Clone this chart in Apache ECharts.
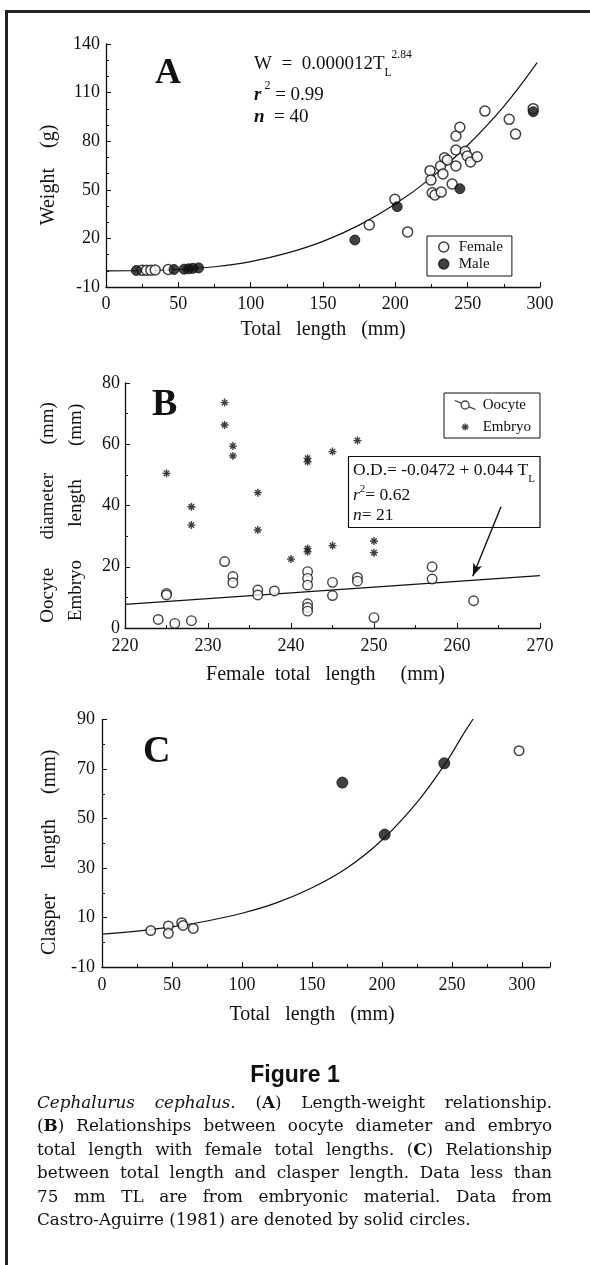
<!DOCTYPE html>
<html>
<head>
<meta charset="utf-8">
<script src="https://cdn.jsdelivr.net/npm/echarts@6/dist/echarts.min.js"></script>
<style>
  html, body { margin: 0; padding: 0; background: #fff; }
  #chart { position: absolute; left: 0; top: 0; width: 590px; height: 1265px; }
  #fig { position: absolute; left: 0; width: 590px; top: 1061px; text-align: center;
         font-family: "Liberation Sans", Arial, sans-serif; font-weight: bold; font-size: 23px; color: #111; }
  #cap { position: absolute; left: 37px; top: 1091px; width: 515px;
         font-family: "DejaVu Serif", serif; font-size: 16.8px; line-height: 23.4px; color: #111; }
  #cap .j { text-align: justify; text-align-last: justify; }
  #cap .l { text-align: left; }
</style>
</head>
<body>
<div id="chart"></div>
<div id="fig">Figure 1</div>
<div id="cap">
  <div class="j"><i>Cephalurus cephalus</i>. (<b>A</b>) Length-weight relationship.</div>
  <div class="j">(<b>B</b>) Relationships between oocyte diameter and embryo</div>
  <div class="j">total length with female total lengths. (<b>C</b>) Relationship</div>
  <div class="j">between total length and clasper length. Data less than</div>
  <div class="j">75 mm TL are from embryonic material. Data from</div>
  <div class="l">Castro-Aguirre (1981) are denoted by solid circles.</div>
</div>
<script>
// ---------- Panel A: length-weight ----------
const femaleTL = [25, 28, 31, 34, 43, 182, 199.7, 208.5, 224, 224.6, 225.5, 227.4, 231.7, 231.3, 232.9, 234, 235.9, 239.3, 241.9, 241.9, 241.9, 244.6, 248.3, 249.7, 252, 256.6, 261.9, 278.7, 283.1, 295.3];
const femaleW  = [0.3, 0.4, 0.4, 0.5, 0.8, 28.3, 44.1, 24, 61.8, 56, 48.2, 46.8, 48.6, 64.7, 59.8, 69.8, 68.4, 53.6, 64.7, 74.6, 83.2, 88.6, 73.8, 70.9, 67.2, 70.4, 98.6, 93.5, 84.4, 100.1];
const maleTL = [21, 47, 54, 57, 60, 64, 172, 201.3, 244.6, 295.3];
const maleW  = [0.2, 0.8, 1.0, 1.2, 1.5, 1.8, 19, 39.6, 50.7, 98.2];
const curveATL = [0, 25, 50, 75, 100, 125, 150, 175, 200, 225, 250, 275, 298];
const curveAW  = [0, 0.1, 0.8, 2.5, 5.7, 10.9, 18.2, 28.2, 41.2, 57.5, 77.5, 101.5, 128.5];
const ticksAX = [0, 50, 100, 150, 200, 250, 300];
const ticksAY = [-10, 20, 50, 80, 110, 140];

// ---------- Panel B: oocyte / embryo ----------
const embryoTL  = [225, 228, 228, 232, 232, 233, 233, 236, 236, 240, 242, 242, 242, 242, 245, 245, 248, 250, 250];
const embryoLen = [50.5, 39.6, 33.6, 73.6, 66.3, 59.4, 56.2, 44.2, 32, 22.5, 55.4, 54.3, 26, 24.9, 57.6, 26.9, 61.2, 28.4, 24.6];
const oocyteTL = [224, 225, 225, 226, 228, 232, 233, 233, 236, 236, 238, 242, 242, 242, 242, 242, 242, 245, 245, 248, 248, 250, 257, 257, 262];
const oocyteD  = [2.8, 11.3, 10.8, 1.5, 2.4, 21.7, 16.8, 14.8, 12.4, 10.8, 12.1, 18.4, 16.2, 14.0, 7.9, 6.7, 5.5, 14.9, 10.6, 16.5, 15.3, 3.4, 20.0, 16.0, 8.9];
const fitBTL = [220, 270];
const fitBOD = [7.7, 17.1];
const arrowFrom = [265.3, 39.6];
const arrowTo   = [261.9, 16.9];

// ---------- Panel C: clasper length ----------
const cOpenTL = [34.8, 47.4, 47.4, 56.9, 57.9, 65.2, 297.9];
const cOpenCL = [4.7, 6.6, 3.6, 7.9, 6.8, 5.6, 77.4];
const cFilledTL = [171.7, 201.9, 244.5];
const cFilledCL = [64.5, 43.5, 72.3];
const curveCTL = [0, 25, 50, 75, 100, 125, 150, 175, 200, 225, 245, 258, 266];
const curveCCL = [3.3, 4.5, 6.2, 8.6, 11.7, 16.0, 22, 30, 41.3, 56.5, 72, 84, 91];

const zip = (a, b) => a.map((v, i) => [v, b[i]]);
const F = '"Liberation Serif", "Times New Roman", serif';
const BLACK = '#111';

const asterisk = 'path://M5,0L5,10M0,5L10,5M1.6,1.6L8.4,8.4M8.4,1.6L1.6,8.4';
const asteriskLegend = 'path://M0,0M25,12M12.5,2.5L12.5,9.5M9,6L16,6M10,3.5L15,8.5M15,3.5L10,8.5';
const oocyteLegend = 'path://M0,0M25,12M2,1.5L8.6,4.2M16.4,7.8L23,10.5M16.5,6A4,4,0,1,1,8.5,6A4,4,0,1,1,16.5,6Z';

function axisBase(extra) {
  return Object.assign({
    type: 'value',
    axisLine: { show: true, onZero: false, lineStyle: { color: BLACK, width: 1.3 } },
    axisTick: { show: true, inside: true, length: 5, lineStyle: { color: BLACK, width: 1 } },
    minorTick: { show: true, splitNumber: 2, length: 3, lineStyle: { color: BLACK, width: 1 } },
    splitLine: { show: false },
    minorSplitLine: { show: false },
    axisLabel: { color: BLACK, fontFamily: F, fontSize: 18 },
    nameLocation: 'middle',
    nameTextStyle: { color: BLACK, fontFamily: F, fontSize: 20 }
  }, extra);
}

const labelFromList = (list) => (v) => (list.indexOf(v) >= 0 ? String(v) : '');

const option = {
  animation: false,
  backgroundColor: '#fff',
  grid: [
    { left: 106, top: 44, width: 434, height: 243 },
    { left: 125, top: 383, width: 415, height: 245 },
    { left: 102, top: 719.5, width: 448, height: 247.5 }
  ],
  xAxis: [
    axisBase({ gridIndex: 0, min: 0, max: 300, interval: 50,
      axisLabel: { color: BLACK, fontFamily: F, fontSize: 18, margin: 8, formatter: labelFromList(ticksAX) },
      name: 'Total   length   (mm)', nameGap: 33 }),
    axisBase({ gridIndex: 1, min: 220, max: 270, interval: 10,
      axisLabel: { color: BLACK, fontFamily: F, fontSize: 18, margin: 9 },
      name: 'Female  total   length     (mm)', nameGap: 37,
      nameTextStyle: { color: BLACK, fontFamily: F, fontSize: 20, padding: [0, 14, 0, 0] } }),
    axisBase({ gridIndex: 2, min: 0, max: 320, interval: 50,
      axisLabel: { color: BLACK, fontFamily: F, fontSize: 18, margin: 9, formatter: (v) => (v > 300 ? '' : String(v)) },
      name: 'Total   length   (mm)', nameGap: 38,
      nameTextStyle: { color: BLACK, fontFamily: F, fontSize: 20, padding: [0, 28, 0, 0] } })
  ],
  yAxis: [
    axisBase({ gridIndex: 0, min: -10, max: 140, interval: 30,
      minorTick: { show: true, splitNumber: 3, length: 3, lineStyle: { color: BLACK, width: 1 } },
      axisLabel: { color: BLACK, fontFamily: F, fontSize: 18, margin: 6, formatter: labelFromList(ticksAY) },
      name: 'Weight    (g)', nameGap: 47,
      nameTextStyle: { color: BLACK, fontFamily: F, fontSize: 20, padding: [0, 19, 0, 0] } }),
    axisBase({ gridIndex: 1, min: 0, max: 80, interval: 20,
      axisLabel: { color: BLACK, fontFamily: F, fontSize: 18, margin: 5 },
      name: 'Oocyte      diameter      (mm)\nEmbryo       length       (mm)', nameGap: 35,
      nameTextStyle: { color: BLACK, fontFamily: F, fontSize: 19, lineHeight: 28, padding: [0, 14, 0, 0] } }),
    axisBase({ gridIndex: 2, min: -10, max: 90, interval: 20,
      axisLabel: { color: BLACK, fontFamily: F, fontSize: 18, margin: 7 },
      name: 'Clasper     length     (mm)', nameGap: 42,
      nameTextStyle: { color: BLACK, fontFamily: F, fontSize: 20, padding: [0, 18, 0, 0] } })
  ],
  legend: [
    { left: 427, top: 236, orient: 'vertical', data: ['Female', 'Male'], selectedMode: false,
      itemWidth: 20, itemHeight: 10, itemGap: 1, padding: [3, 9, 4, 11],
      borderColor: BLACK, borderWidth: 1, backgroundColor: '#fff',
      itemStyle: { borderWidth: 1.5 },
      textStyle: { fontFamily: F, fontSize: 15, color: BLACK, lineHeight: 16 } },
    { left: 444, top: 393, orient: 'vertical', selectedMode: false,
      data: [{ name: 'Oocyte', icon: oocyteLegend }, { name: 'Embryo', icon: asteriskLegend }],
      itemWidth: 25, itemHeight: 12, itemGap: 6, padding: [4, 9, 3, 8],
      borderColor: BLACK, borderWidth: 1, backgroundColor: '#fff',
      itemStyle: { borderWidth: 1.3 },
      textStyle: { fontFamily: F, fontSize: 15, color: BLACK, lineHeight: 16 } }
  ],
  series: [
    { name: 'fitA', type: 'line', xAxisIndex: 0, yAxisIndex: 0, data: zip(curveATL, curveAW),
      smooth: 0.4, symbol: 'none', showSymbol: false, lineStyle: { color: BLACK, width: 1.2 }, z: 2 },
    { name: 'Female', type: 'scatter', xAxisIndex: 0, yAxisIndex: 0, data: zip(femaleTL, femaleW),
      symbol: 'circle', symbolSize: 10, itemStyle: { color: '#fff', borderColor: BLACK, borderWidth: 1.5 }, z: 3 },
    { name: 'Male', type: 'scatter', xAxisIndex: 0, yAxisIndex: 0, data: zip(maleTL, maleW),
      symbol: 'circle', symbolSize: 10, itemStyle: { color: BLACK, borderColor: BLACK, borderWidth: 1 }, z: 4 },

    { name: 'fitB', type: 'line', xAxisIndex: 1, yAxisIndex: 1, data: zip(fitBTL, fitBOD),
      symbol: 'none', showSymbol: false, lineStyle: { color: BLACK, width: 1.2 }, z: 2,
      markLine: { silent: true, symbol: ['none', 'arrow'], symbolSize: [7, 13], label: { show: false },
        lineStyle: { color: BLACK, width: 1.4, type: 'solid' },
        data: [[{ coord: arrowFrom }, { coord: arrowTo }]] } },
    { name: 'Oocyte', type: 'scatter', xAxisIndex: 1, yAxisIndex: 1, data: zip(oocyteTL, oocyteD),
      symbol: 'circle', symbolSize: 9.5, itemStyle: { color: '#fff', borderColor: BLACK, borderWidth: 1.4 }, z: 3 },
    { name: 'Embryo', type: 'scatter', xAxisIndex: 1, yAxisIndex: 1, data: zip(embryoTL, embryoLen),
      symbol: asterisk, symbolSize: 8, itemStyle: { color: BLACK, borderColor: BLACK, borderWidth: 1.4 }, z: 3 },

    { name: 'fitC', type: 'line', xAxisIndex: 2, yAxisIndex: 2, data: zip(curveCTL, curveCCL),
      smooth: 0.4, symbol: 'none', showSymbol: false, clip: true, lineStyle: { color: BLACK, width: 1.2 }, z: 2 },
    { name: 'C embryonic', type: 'scatter', xAxisIndex: 2, yAxisIndex: 2, data: zip(cOpenTL, cOpenCL),
      symbol: 'circle', symbolSize: 9.5, itemStyle: { color: '#fff', borderColor: BLACK, borderWidth: 1.5 }, z: 3 },
    { name: 'C Castro-Aguirre', type: 'scatter', xAxisIndex: 2, yAxisIndex: 2, data: zip(cFilledTL, cFilledCL),
      symbol: 'circle', symbolSize: 11, itemStyle: { color: BLACK, borderColor: BLACK, borderWidth: 1 }, z: 3 }
  ],
  graphic: { elements: [
    // frame
    { type: 'line', shape: { x1: 6.5, y1: 11.5, x2: 6.5, y2: 1265 }, style: { stroke: '#222', lineWidth: 3 } },
    { type: 'line', shape: { x1: 5, y1: 11.5, x2: 590, y2: 11.5 }, style: { stroke: '#222', lineWidth: 3 } },
    // panel letters
    { type: 'text', x: 155, y: 74, style: { text: 'A', fontFamily: F, fontWeight: 'bold', fontSize: 36, fill: BLACK, verticalAlign: 'middle' } },
    { type: 'text', x: 152, y: 405, style: { text: 'B', fontFamily: F, fontWeight: 'bold', fontSize: 38, fill: BLACK, verticalAlign: 'middle' } },
    { type: 'text', x: 143, y: 752, style: { text: 'C', fontFamily: F, fontWeight: 'bold', fontSize: 38, fill: BLACK, verticalAlign: 'middle' } },
    // equation A
    { type: 'text', x: 254, y: 49, style: { text: '{m|W  =  0.000012T}{sub|L}{sup|2.84}', verticalAlign: 'top',
      rich: { m: { fontFamily: F, fontSize: 19, lineHeight: 30, fill: BLACK },
              sub: { fontFamily: F, fontSize: 11.5, lineHeight: 12, verticalAlign: 'bottom', fill: BLACK },
              sup: { fontFamily: F, fontSize: 11.5, lineHeight: 12, verticalAlign: 'top', fill: BLACK } } } },
    { type: 'text', x: 254, y: 80, style: { text: '{i|r}{sup| 2}{m| = 0.99}', verticalAlign: 'top',
      rich: { m: { fontFamily: F, fontSize: 19, lineHeight: 30, fill: BLACK },
              i: { fontFamily: F, fontSize: 19, fontStyle: 'italic', fontWeight: 'bold', lineHeight: 30, fill: BLACK },
              sup: { fontFamily: F, fontSize: 12, lineHeight: 14, verticalAlign: 'top', fill: BLACK } } } },
    { type: 'text', x: 254, y: 102, style: { text: '{i|n}{m|  = 40}', verticalAlign: 'top',
      rich: { m: { fontFamily: F, fontSize: 19, lineHeight: 30, fill: BLACK },
              i: { fontFamily: F, fontSize: 19, fontStyle: 'italic', fontWeight: 'bold', lineHeight: 30, fill: BLACK } } } },
    // box B
    { type: 'rect', shape: { x: 348.5, y: 456.5, width: 191.5, height: 71 }, style: { fill: '#fff', stroke: BLACK, lineWidth: 1.2 } },
    { type: 'text', x: 353, y: 455, style: { text: '{m|O.D.= -0.0472 + 0.044 T}{sub|L}', verticalAlign: 'top',
      rich: { m: { fontFamily: F, fontSize: 17.5, lineHeight: 30, fill: BLACK },
              sub: { fontFamily: F, fontSize: 11, lineHeight: 12, verticalAlign: 'bottom', fill: BLACK } } } },
    { type: 'text', x: 353, y: 484, style: { text: '{i|r}{sup|2}{m|= 0.62}', verticalAlign: 'top',
      rich: { m: { fontFamily: F, fontSize: 17.5, lineHeight: 22, fill: BLACK },
              i: { fontFamily: F, fontSize: 17.5, fontStyle: 'italic', lineHeight: 22, fill: BLACK },
              sup: { fontFamily: F, fontSize: 11, lineHeight: 12, verticalAlign: 'top', fill: BLACK } } } },
    { type: 'text', x: 353, y: 504, style: { text: '{i|n}{m|= 21}', verticalAlign: 'top',
      rich: { m: { fontFamily: F, fontSize: 17.5, lineHeight: 22, fill: BLACK },
              i: { fontFamily: F, fontSize: 17.5, fontStyle: 'italic', lineHeight: 22, fill: BLACK } } } }
  ] }
};

const chart = echarts.init(document.getElementById('chart'), null, { renderer: 'canvas' });
chart.setOption(option);
</script>
</body>
</html>
